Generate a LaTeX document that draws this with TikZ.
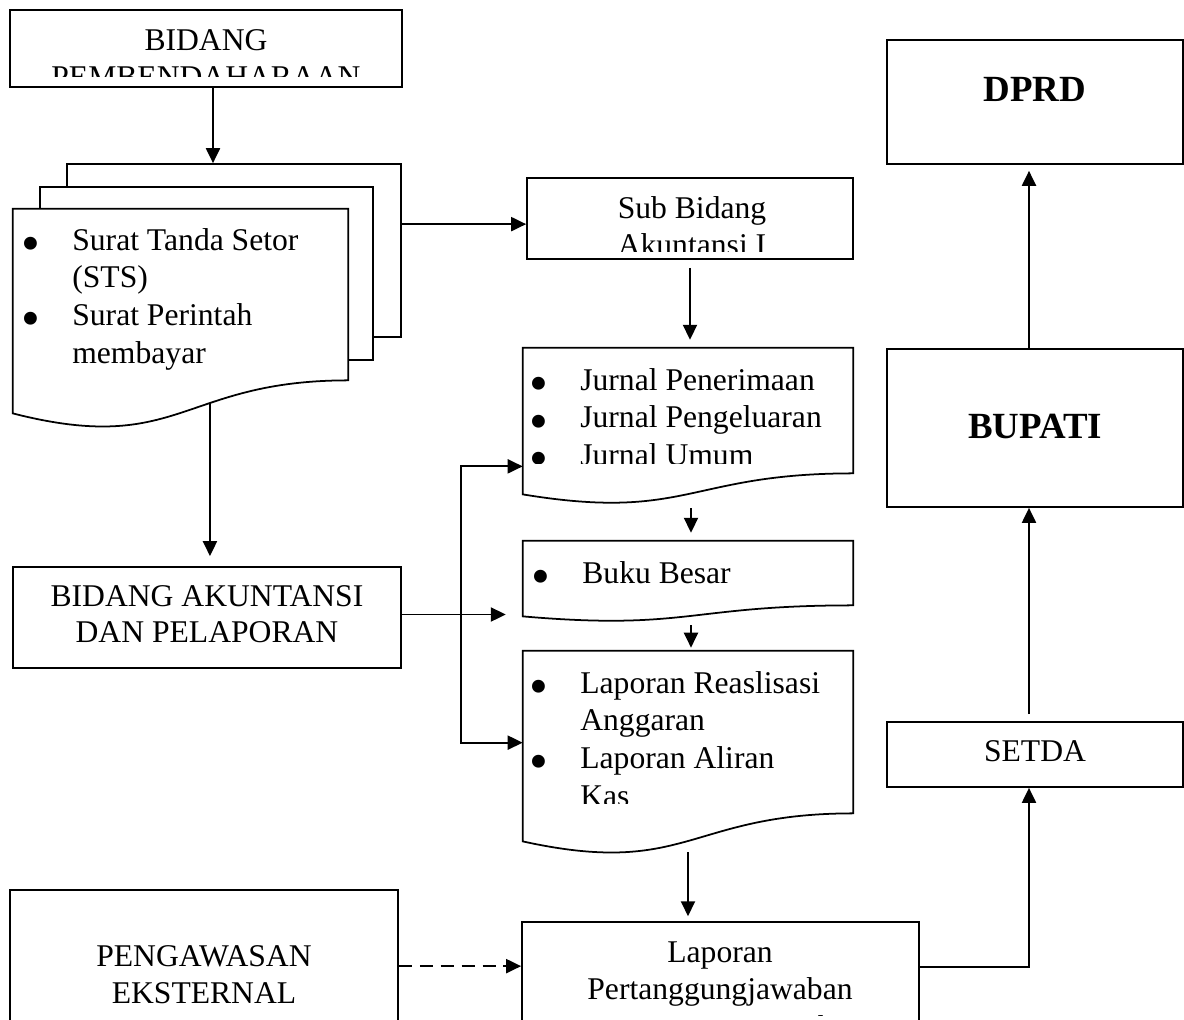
\documentclass[tikz,border=0pt]{standalone}
\usepackage{fontspec}
\setmainfont{Liberation Serif}
\usepackage{graphicx}
\usetikzlibrary{arrows.meta, calc, fit}
\newlength{\bulw}
\setlength{\bulw}{0.94cm}
\newcommand{\bul}{\makebox[\bulw][l]{\hspace{-0.08cm}\raisebox{-0.36em}{\scalebox{1.7}{\textbullet}}}}
\newcommand{\ind}{\makebox[\bulw]{}}
% document sheet with wavy lower edge, hung below a node
\newcommand{\docoutline}[2]{%
	\draw[boxline, fill=white] (#1.north west) -- (#1.north east) -- (#1.south east)
		.. controls (#1.south) and ($(#1.south)+(0,2.3*#2)$) .. ($(#1.south west)+(0,#2)$)
		coordinate[pos=0.385] (#1 wave) -- cycle;}
\tikzset{
	boxline/.style={draw, line width=1pt},
	box/.style={boxline, inner sep=0pt, fill=white},
	sheet/.style={inner sep=0pt},
	arrow/.style={line width=1pt, ->},
	txt/.style={inner sep=0pt, font=\fontsize{18}{21.4}\selectfont},
	listtxt/.style={txt, align=left, anchor=north west},
	midtxt/.style={txt, align=center, anchor=north},
	bigtxt/.style={inner sep=0pt, font=\fontsize{21}{25}\selectfont\bfseries}
}
\begin{document}
\begin{tikzpicture}[x=0.02cm, y=-0.02cm, >={Triangle[length=8.5pt, width=8pt]}]
	\useasboundingbox (0,0) rectangle (1184,1019);
	\fill[white] (0,0) rectangle (1184,1019);
	\clip (0,0) rectangle (1184,1019);
	% left column
	\node[box, fit={(10,10) (402,87)}] (pemb) {};
	\begin{scope}
		\clip (10,10) rectangle (402,76);
		\node[midtxt] (pemb text) at (206,29) {BIDANG\\PEMBENDAHARAAN};
	\end{scope}
	\node[box, fit={(67,164) (401,337)}] (back) {};
	\node[box, fit={(40,187) (373,360)}] (middle) {};
	\node[sheet, fit={(13,209) (348,380)}] (surat) {};
	\docoutline{surat}{33}
	\node[listtxt] (surat text) at (25,228) {\bul Surat Tanda Setor\\ \ind (STS)\\ \bul Surat Perintah\\ \ind membayar};
	\node[box, fit={(13,567) (401,668)}] (bidang) {};
	\node[txt, align=center, font=\fontsize{18}{20.6}\selectfont] (bidang text) at ($(bidang.center)+(0,-3)$) {BIDANG AKUNTANSI\\DAN PELAPORAN};
	\node[box, fit={(10,890) (398,1060)}] (peng) {};
	\node[midtxt] (peng text) at (204,945) {PENGAWASAN\\EKSTERNAL};
	% middle column
	\node[box, fit={(527,178) (853,259)}] (sub) {};
	\begin{scope}
		\clip (527,178) rectangle (853,251);
		\node[midtxt] (sub text) at (692,196) {Sub Bidang\\Akuntansi I};
	\end{scope}
	\node[sheet, fit={(523,348) (853,473)}] (jurnal) {};
	\docoutline{jurnal}{21}
	\begin{scope}
		\clip (523,348) rectangle (853,463);
		\node[listtxt] (jurnal text) at (533,368) {\bul Jurnal Penerimaan\\ \bul Jurnal Pengeluaran\\ \bul Jurnal Umum};
	\end{scope}
	\node[sheet, fit={(523,541) (853,605)}] (buku) {};
	\docoutline{buku}{11}
	\node[listtxt] (buku text) at (535,561) {\bul Buku Besar};
	\node[sheet, fit={(523,651) (853,813)}] (lap) {};
	\docoutline{lap}{28}
	\begin{scope}
		\clip (523,651) rectangle (853,803);
		\node[listtxt] (lap text) at (533,671) {\bul Laporan Reaslisasi\\ \ind Anggaran\\ \bul Laporan Aliran\\ \ind Kas};
	\end{scope}
	\node[box, fit={(522,922) (919,1060)}] (pert) {};
	\begin{scope}
		\clip (522,922) rectangle (919,1015);
		\node[midtxt] (pert text) at (720,941) {Laporan\\Pertanggungjawaban\\Keuangan Daerah};
	\end{scope}
	% right column
	\node[box, fit={(887,40) (1183,164)}] (dprd) {};
	\node[bigtxt, anchor=base] (dprd text) at ($(dprd.north)+(0,62)$) {DPRD};
	\node[box, fit={(887,349) (1183,507)}] (bupati) {};
	\node[bigtxt] (bupati text) at ($(bupati.center)+(0,-2)$) {BUPATI};
	\node[box, fit={(887,722) (1183,787)}] (setda) {};
	\node[txt] (setda text) at ($(setda.center)+(0,-3)$) {SETDA};
	% connectors
	\draw[arrow] ($(pemb.south)+(7,0)$) -- ($(pemb.south |- back.north)+(7,0)$);
	\draw[arrow] ($(back.north east)+(0,61)$) -- ($(sub.north west)+(0,47)$);
	\draw[arrow, shorten <=4.5pt, shorten >=4.5pt] (sub.south) -- (sub.south |- jurnal.north);
	\draw[arrow, shorten >=4.5pt] ($(jurnal.south)+(3,35)$) -- ($(jurnal.south |- buku.north)+(3,0)$);
	\draw[arrow, shorten >=1.7pt] ($(buku.south)+(3,20)$) -- ($(buku.south |- lap.north)+(3,0)$);
	\draw[arrow, shorten >=2.8pt] ($(lap.south)+(0,39)$) -- (lap.south |- pert.north);
	\draw[arrow, shorten >=5.7pt] (surat wave) -- (surat wave |- bidang.north);
	\draw[arrow, shorten >=9.6pt] ($(bidang.east)+(0,-3)$) -- ($(bidang.east -| buku.west)+(0,-3)$);
	\coordinate (fork top) at ($(jurnal.south west)+(-62,-7)$);
	\coordinate (fork bottom) at ($(lap.north west)+(-62,92)$);
	\draw[arrow, <->] (fork top -| jurnal.west) -- (fork top) -- (fork bottom) -- (fork bottom -| lap.west);
	\draw[arrow, dash pattern=on 7.4pt off 4.5pt] ($(peng.north east)+(0,77)$) -- ($(pert.north west)+(0,45)$);
	\draw[arrow] ($(pert.north east)+(0,46)$) -| ($(setda.south)+(-6,0)$);
	\draw[arrow, shorten <=4pt] ($(setda.north)+(-6,0)$) -- ($(bupati.south)+(-6,0)$);
	\draw[arrow, shorten >=3.4pt] ($(bupati.north)+(-6,0)$) -- ($(dprd.south)+(-6,0)$);
\end{tikzpicture}
\end{document}
